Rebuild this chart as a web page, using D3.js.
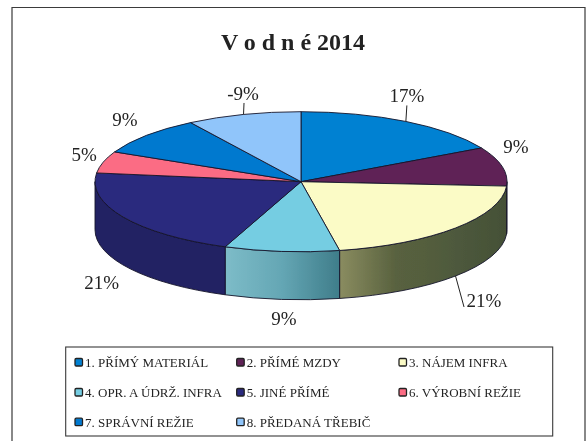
<!DOCTYPE html>
<html><head><meta charset="utf-8">
<script src="https://cdn.jsdelivr.net/npm/d3@7"></script>
<style>html,body{margin:0;padding:0;background:#fff}svg{display:block}text{font-family:"Liberation Serif",serif;fill:#242424}</style>
</head><body><svg id="c" width="587" height="441"></svg>
<script>
const title = "V o d n é 2014";
const categories = ["1. PŘÍMÝ MATERIÁL","2. PŘÍMÉ MZDY","3. NÁJEM INFRA","4. OPR. A ÚDRŽ. INFRA","5. JINÉ PŘÍMÉ","6. VÝROBNÍ REŽIE","7. SPRÁVNÍ REŽIE","8. PŘEDANÁ TŘEBIČ"];
const values = [17,9,21,9,21,5,9,-9];
const topColors = ["#0481d2","#5e2356","#fbfbc6","#74cde2","#2c2a7e","#fb6c84","#0479cf","#90c5fa"];
const sideStops = [
  ["#034f86"],["#3c1a40"],
  ["#8a8c60","#59623f","#4f5a3d","#445036"],
  ["#7dbcc8","#64a6b4","#3f7d8a"],
  ["#222164"],["#a04058"],["#034f86"],["#5a7fa8"]
];
const labelOffsets = [[1,-19.4],[14,-13.7],[28.5,79],[2.4,73.6],[-22,71.7],[-19,-1.5],[-21.5,-9.7],[-.5,-14.8]];
const leaders = {0:[[0,0],[1,-16]],2:[[0,48],[8.5,79]],7:[[0,0],[.5,-11.5]]};

const svg = d3.select("#c");
const cx=301, cy=181.7, rx=206, ry=70, depth=48;
const defs = svg.append("defs");
defs.append("filter").attr("id","soft").attr("x",0).attr("y",0).attr("width","100%").attr("height","100%")
  .append("feGaussianBlur").attr("stdDeviation",0.35);
const root = svg.append("g").attr("filter","url(#soft)");
root.append("rect").attr("width",587).attr("height",441).attr("fill","#fff");

root.append("path").attr("d","M12,460V7.5H585V460").attr("fill","none").attr("stroke","#3a3a3a").attr("stroke-width",1.2);
root.append("text").attr("x",293).attr("y",50).attr("text-anchor","middle")
  .attr("font-size",24).attr("font-weight","bold").text(title);

const pie = d3.pie().sort(null).value(d=>Math.abs(d));
const arcs = pie(values);
const P = a => [cx+rx*Math.sin(a), cy-ry*Math.cos(a)];

// side walls
const HALF=Math.PI/2;
arcs.map((d,i)=>({d,i})).filter(({d})=>d.endAngle>HALF && d.startAngle<3*HALF).forEach(({d,i})=>{
  const a0=Math.max(d.startAngle,HALF), a1=Math.min(d.endAngle,3*HALF);
  const p0=P(a0), p1=P(a1);
  const id="side"+i;
  const g=defs.append("linearGradient").attr("id",id).attr("gradientUnits","userSpaceOnUse")
    .attr("x1",Math.min(p0[0],p1[0])).attr("x2",Math.max(p0[0],p1[0])).attr("y1",0).attr("y2",0);
  const stops=sideStops[i];
  stops.forEach((c,k)=>g.append("stop").attr("offset",stops.length>1?k/(stops.length-1):0).attr("stop-color",c));
  root.append("path")
    .attr("d",`M${p0}A${rx},${ry} 0 0 1 ${p1}L${p1[0]},${p1[1]+depth}A${rx},${ry} 0 0 0 ${p0[0]},${p0[1]+depth}Z`)
    .attr("fill",`url(#${id})`).attr("stroke","#15152a").attr("stroke-width",0.9);
});

// top surface
const arc=d3.arc().innerRadius(0).outerRadius(rx);
root.append("g").attr("transform",`translate(${cx},${cy}) scale(1,${ry/rx})`)
  .selectAll("path").data(arcs).join("path")
  .attr("d",arc).attr("fill",(d,i)=>topColors[i])
  .attr("stroke","#15152a").attr("stroke-width",0.9).attr("vector-effect","non-scaling-stroke");

// labels
const mid=d=>(d.startAngle+d.endAngle)/2;
arcs.forEach((d,i)=>{
  const m=P(mid(d)), o=labelOffsets[i];
  root.append("text").attr("x",m[0]+o[0]).attr("y",m[1]+o[1]).attr("text-anchor","middle")
    .attr("font-size",19).text(values[i]+"%");
  if(leaders[i]){
    const [a,b]=leaders[i];
    root.append("line").attr("x1",m[0]+a[0]).attr("y1",m[1]+a[1]).attr("x2",m[0]+b[0]).attr("y2",m[1]+b[1])
      .attr("stroke","#222").attr("stroke-width",1);
  }
});

// legend
root.append("rect").attr("x",65.7).attr("y",347).attr("width",487).attr("height",89)
  .attr("fill","#fff").attr("stroke","#3a3a3a").attr("stroke-width",1.1);
const colX=d3.scaleOrdinal().domain([0,1,2]).range([75,236.7,399]);
const rowY=d3.scaleOrdinal().domain([0,1,2]).range([362,392,421.7]);
categories.forEach((c,i)=>{
  const x=colX(i%3), y=rowY(Math.floor(i/3));
  root.append("rect").attr("x",x).attr("y",y-3.5).attr("width",7.5).attr("height",7.5).attr("rx",1.2)
    .attr("fill",topColors[i]).attr("stroke","#222").attr("stroke-width",1.3);
  root.append("text").attr("x",x+10).attr("y",y+5).attr("font-size",13).text(c);
});
</script></body></html>
